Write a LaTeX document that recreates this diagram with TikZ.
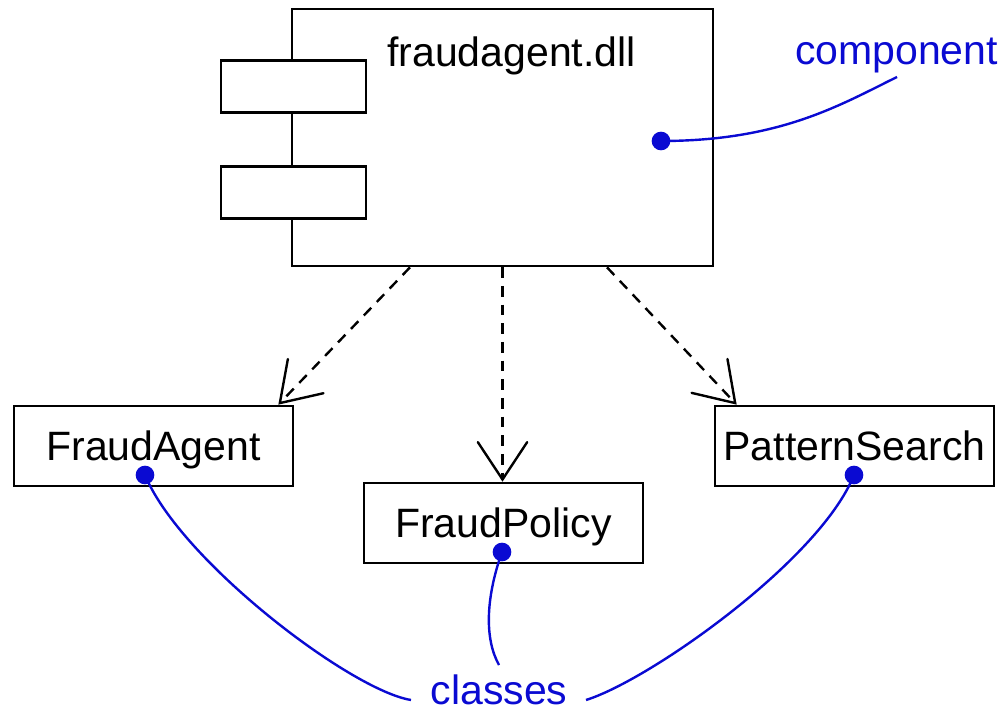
\documentclass[tikz,border=0pt]{standalone}
\usepackage{fontspec}
\setmainfont{Liberation Sans}
\usetikzlibrary{arrows.meta,calc}
\definecolor{noteblue}{RGB}{10,10,210}
\begin{document}
\begin{tikzpicture}[x=0.75pt,y=-0.75pt,
  every node/.style={font=\fontsize{30.75pt}{36pt}\selectfont},
  comp/.style={draw,line width=2pt,minimum width=315.75pt,minimum height=192.75pt,inner sep=0pt},
  tab/.style={draw,fill=white,line width=2pt,minimum width=108.75pt,minimum height=39pt,inner sep=0pt},
  cls/.style={draw,line width=2pt,minimum width=209.25pt,minimum height=60pt,inner sep=0pt,text height=21.75pt,text depth=0pt},
  dep/.style={line width=1.8pt,dash pattern=on 8pt off 6pt,-{Straight Barb[length=28pt,width=37pt,line cap=round]}},
  note/.style={text=noteblue,inner sep=0pt,anchor=base},
  notedot/.style={circle,fill=noteblue,minimum size=14pt,inner sep=0pt},
  noteline/.style={draw=noteblue,line width=1.8pt}]
\useasboundingbox (0,0) rectangle (1003,712);
% component
\node[comp] (main) at (502.5,137.5) {};
\node[tab] (tab1) at (293.5,86.5) {};
\node[tab] (tab2) at (293.5,192.5) {};
\node[inner sep=0pt,anchor=base] (name) at (511.5,67) {fraudagent.dll};
% classes
\node[cls] (fa) at (153.5,446) {FraudAgent};
\node[cls] (fp) at (503.5,523) {FraudPolicy};
\node[cls] (ps) at (854.5,446) {PatternSearch};
% dependencies
\draw[dep] ($(main.south)+(-92.5,0)$) -- ($(fa.north east)+(-16,0)$);
\draw[dep] (main.south) -- (main.south |- fp.north);
\draw[dep] ($(main.south)+(104.5,0)$) -- ($(ps.north west)+(23,0)$);
% notes
\node[note] (ncomp) at (896.5,65) {component};
\node[note] (ncls) at (499,704) {classes};
\coordinate (ce) at (897,77);
\coordinate (cl) at (411,700);
\coordinate (cm) at (499,665);
\coordinate (cr) at (586,700);
\node[notedot] (d0) at (661,141) {};
\node[notedot] (d1) at (145,475) {};
\node[notedot] (d2) at (502,552) {};
\node[notedot] (d3) at (854,475) {};
\path[noteline] (d0.center) .. controls (780,141) and (840,105) .. (ce);
\path[noteline] (d1.center) .. controls (180,560) and (350,690) .. (cl);
\path[noteline] (d2.center) .. controls (485,600) and (485,640) .. (cm);
\path[noteline] (d3.center) .. controls (820,560) and (650,680) .. (cr);
\end{tikzpicture}
\end{document}
